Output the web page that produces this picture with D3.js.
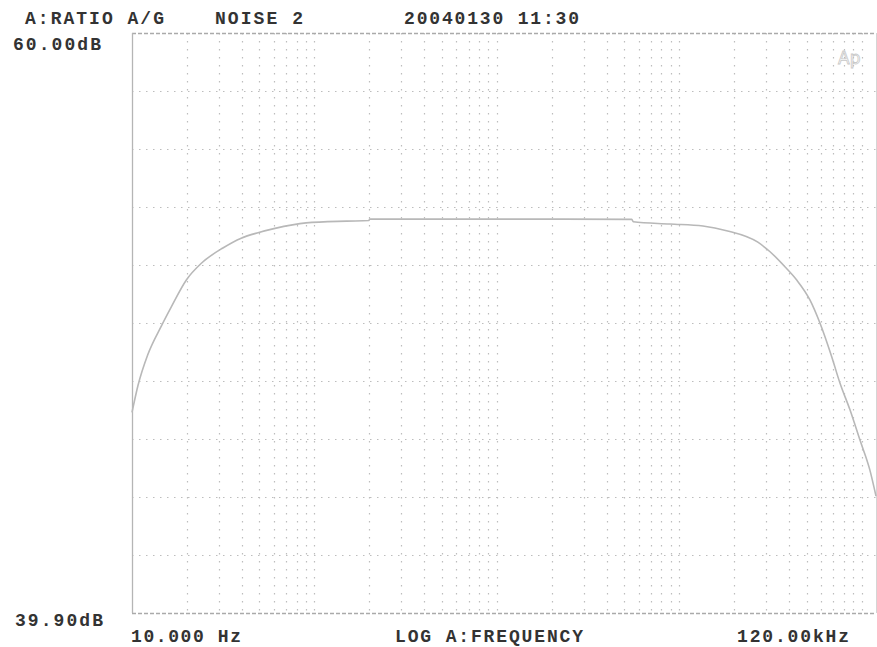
<!DOCTYPE html>
<html>
<head>
<meta charset="utf-8">
<script src="https://cdn.jsdelivr.net/npm/d3@7"></script>
<style>
  html, body { margin: 0; padding: 0; background: #fff; }
  svg { display: block; }
  .lbl { font-family: "Liberation Mono", "DejaVu Sans Mono", monospace; font-size: 18px; font-weight: bold; fill: #333; }
</style>
</head>
<body>
<svg id="chart" width="877" height="647"></svg>
<script>
// ---- data ----
const freqHz = [10, 10.8, 12.2, 14.5, 16.4, 19.9, 24, 31.5, 39.7, 49.1, 60, 90, 150, 199, 201, 500, 1000, 2000, 5500, 5600, 8900, 13500, 18200, 27000, 31500, 38000, 44100, 52100, 59200, 68600, 76200, 86400, 97900, 111000, 120000];
const levelDb = [46.85, 47.8, 48.85, 49.85, 50.5, 51.45, 52.02, 52.55, 52.89, 53.08, 53.22, 53.42, 53.48, 53.5, 53.55, 53.55, 53.55, 53.55, 53.54, 53.46, 53.38, 53.31, 53.15, 52.75, 52.42, 51.9, 51.44, 50.75, 49.94, 48.78, 47.86, 46.94, 45.9, 44.86, 43.95];
const xDomain = [10, 120000];
const yDomain = [39.9, 60.0];
const yGridDivisions = 10;
const headerTexts = ["A:RATIO A/G", "NOISE 2", "20040130 11:30"];
const yEndLabels = ["60.00dB", "39.90dB"];
const xLabels = ["10.000 Hz", "LOG A:FREQUENCY", "120.00kHz"];

// ---- layout ----
const svg = d3.select("#chart");
const L = 132, R = 876, T = 33, B = 613;
const x = d3.scaleLog().domain(xDomain).range([L, R]);
const y = d3.scaleLinear().domain(yDomain).range([B, T]);

const gridColor = "#bdbdbd";

// vertical grid: 1..9 x decades
const vTicks = [];
for (let d = 10; d <= 100000; d *= 10) {
  for (let m = 1; m <= 9; m++) {
    const v = d * m;
    if (v > xDomain[0] && v < xDomain[1]) vTicks.push(v);
  }
}
svg.append("g").selectAll("line").data(vTicks).join("line")
  .attr("x1", d => Math.round(x(d)) + 0.5).attr("x2", d => Math.round(x(d)) + 0.5)
  .attr("y1", T).attr("y2", B)
  .attr("stroke", gridColor).attr("stroke-width", 1.2)
  .attr("stroke-dasharray", "1.5,6.5");

// horizontal grid
const step = (yDomain[1] - yDomain[0]) / yGridDivisions;
const hTicks = d3.range(1, yGridDivisions).map(i => yDomain[0] + i * step);
svg.append("g").selectAll("line").data(hTicks).join("line")
  .attr("x1", L).attr("x2", R)
  .attr("y1", d => Math.round(y(d)) + 0.5).attr("y2", d => Math.round(y(d)) + 0.5)
  .attr("stroke", gridColor).attr("stroke-width", 1.2)
  .attr("stroke-dasharray", "1.5,5.5");

// borders
svg.append("line").attr("x1", L).attr("x2", R).attr("y1", T + 0.5).attr("y2", T + 0.5)
  .attr("stroke", "#aaa").attr("stroke-width", 1.3).attr("stroke-dasharray", "4,2");
svg.append("line").attr("x1", L).attr("x2", R).attr("y1", B + 0.5).attr("y2", B + 0.5)
  .attr("stroke", "#aaa").attr("stroke-width", 1.3).attr("stroke-dasharray", "4,2");
svg.append("line").attr("x1", L + 0.5).attr("x2", L + 0.5).attr("y1", T).attr("y2", B)
  .attr("stroke", "#b5b5b5").attr("stroke-width", 1.3);
svg.append("line").attr("x1", R + 0.5).attr("x2", R + 0.5).attr("y1", T).attr("y2", B)
  .attr("stroke", "#d5d5d5").attr("stroke-width", 1);

// curve
const line = d3.line().x((d, i) => x(freqHz[i])).y(d => y(d)).curve(d3.curveMonotoneX);
svg.append("path").datum(levelDb)
  .attr("d", line).attr("fill", "none")
  .attr("stroke", "#b8b8b8").attr("stroke-width", 1.6);

// "Ap" logo
svg.append("text").attr("x", 838).attr("y", 64).text("Ap")
  .attr("font-family", "DejaVu Sans, sans-serif").attr("font-size", 17)
  .attr("fill", "none").attr("stroke", "#c8c8c8").attr("stroke-width", 0.8);

// text labels
function addText(str, x0, x1, baseline) {
  svg.append("text").attr("class", "lbl")
    .attr("x", x0).attr("y", baseline)
    .attr("textLength", x1 - x0).attr("lengthAdjust", "spacing")
    .text(str);
}
addText(headerTexts[0], 25, 164, 24);
addText(headerTexts[1], 215, 303, 24);
addText(headerTexts[2], 404, 579, 24);
addText(yEndLabels[0], 13, 101, 50);
addText(yEndLabels[1], 15, 103, 626);
addText(xLabels[0], 131, 241, 642);
addText(xLabels[1], 395, 583, 642);
addText(xLabels[2], 737, 849, 642);
</script>
</body>
</html>
